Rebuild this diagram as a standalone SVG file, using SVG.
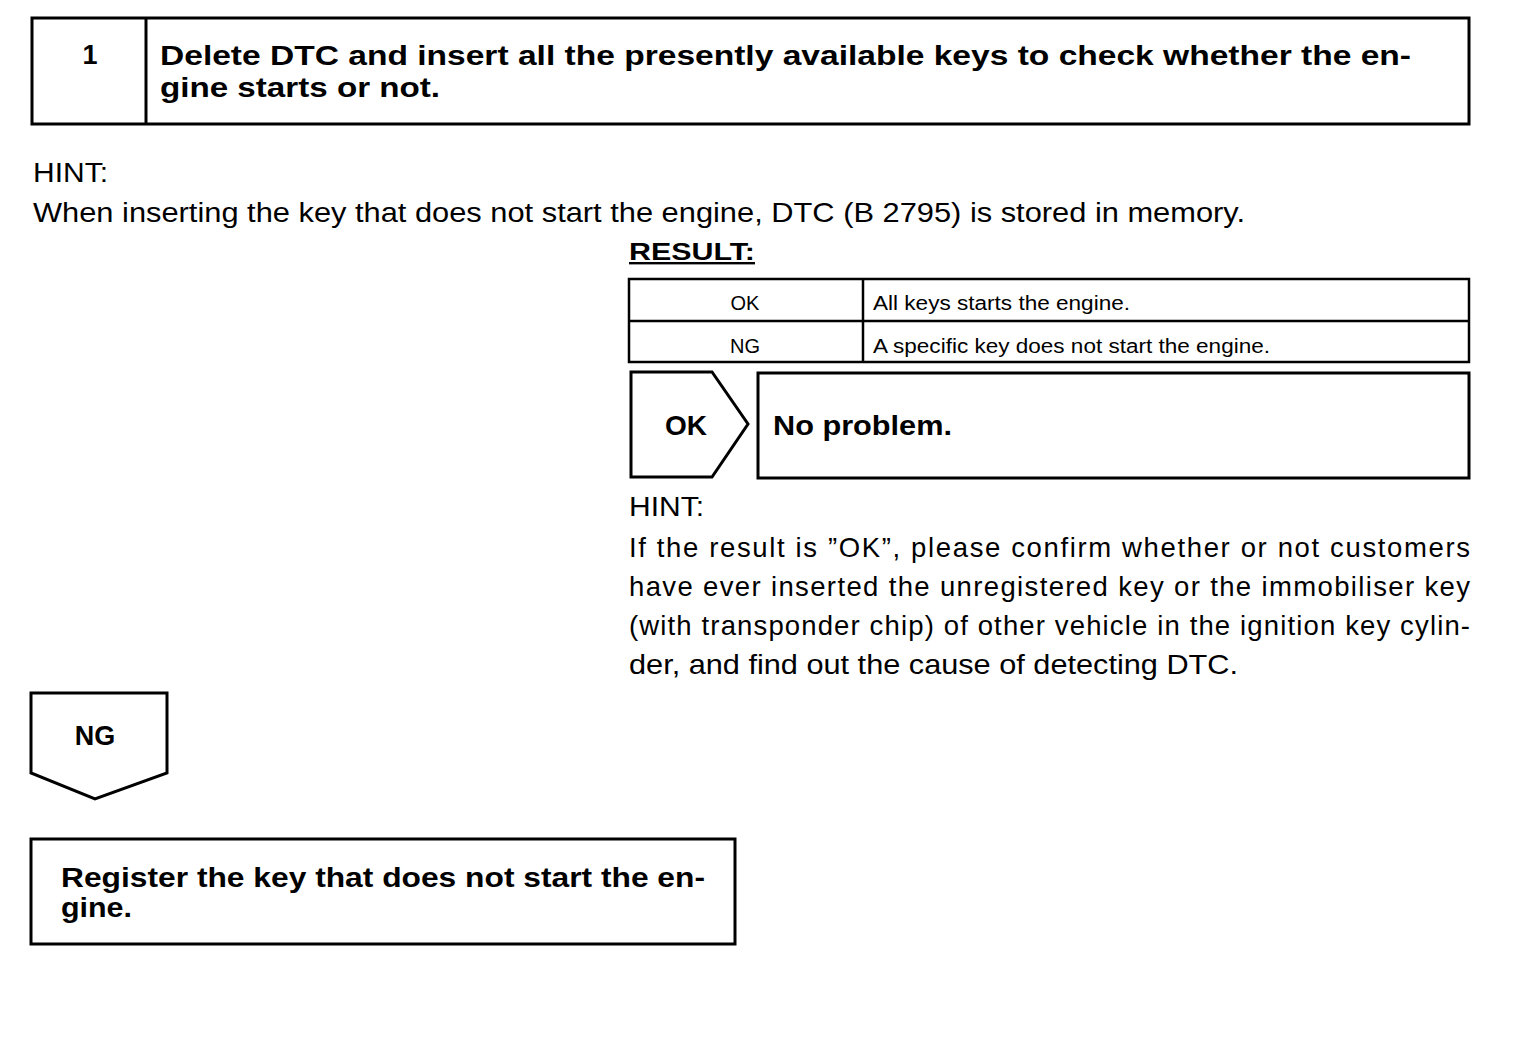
<svg xmlns="http://www.w3.org/2000/svg" width="1520" height="1048" viewBox="0 0 1520 1048">
<style>
.ln{fill:none;stroke:#000;stroke-width:3}
.thin{fill:none;stroke:#000;stroke-width:2.5}
.b{font-family:"Liberation Sans",Arial,sans-serif;font-weight:bold;fill:#000}
.r{font-family:"Liberation Sans",Arial,sans-serif;fill:#000}
</style>
<rect width="1520" height="1048" fill="#fff"/>
<g id="step1">
<rect class="ln" x="32" y="18" width="1437" height="106"/>
<line class="ln" x1="146" y1="18" x2="146" y2="124"/>
<text class="b" x="90" y="64" font-size="27" text-anchor="middle">1</text>
<text class="b" x="160" y="65" font-size="28" textLength="1251" lengthAdjust="spacingAndGlyphs">Delete DTC and insert all the presently available keys to check whether the en-</text>
<text class="b" x="160" y="97" font-size="28" textLength="280" lengthAdjust="spacingAndGlyphs">gine starts or not.</text>
</g>
<g id="hint1">
<text class="r" x="33" y="182" font-size="27.5" textLength="75" lengthAdjust="spacingAndGlyphs">HINT:</text>
<text class="r" x="33" y="222" font-size="27.5" textLength="1212" lengthAdjust="spacingAndGlyphs">When inserting the key that does not start the engine, DTC (B 2795) is stored in memory.</text>
</g>
<g id="result">
<text class="b" x="629" y="260" font-size="24" text-decoration="underline" textLength="126" lengthAdjust="spacingAndGlyphs">RESULT:</text>
<rect class="thin" x="629" y="279" width="840" height="83"/>
<line class="thin" x1="629" y1="321" x2="1469" y2="321"/>
<line class="thin" x1="863" y1="279" x2="863" y2="362"/>
<text class="r" x="745" y="310" font-size="20" text-anchor="middle">OK</text>
<text class="r" x="745" y="353" font-size="20" text-anchor="middle">NG</text>
<text class="r" x="873" y="310" font-size="20" textLength="257" lengthAdjust="spacingAndGlyphs">All keys starts the engine.</text>
<text class="r" x="873" y="353" font-size="20" textLength="397" lengthAdjust="spacingAndGlyphs">A specific key does not start the engine.</text>
</g>
<g id="ok-tag">
<polygon class="ln" points="631,372 712,372 748,424 712,477 631,477"/>
<text class="b" x="686" y="435" font-size="28" text-anchor="middle">OK</text>
</g>
<g id="no-problem">
<rect class="ln" x="758" y="373" width="711" height="105"/>
<text class="b" x="773" y="435" font-size="28" textLength="179" lengthAdjust="spacingAndGlyphs">No problem.</text>
</g>
<g id="hint2">
<text class="r" x="629" y="516" font-size="27.5" textLength="75" lengthAdjust="spacingAndGlyphs">HINT:</text>
<text class="r" x="629" y="557" font-size="27.5" textLength="841" lengthAdjust="spacing">If the result is ”OK”, please confirm whether or not customers</text>
<text class="r" x="629" y="596" font-size="27.5" textLength="841" lengthAdjust="spacing">have ever inserted the unregistered key or the immobiliser key</text>
<text class="r" x="629" y="635" font-size="27.5" textLength="841" lengthAdjust="spacing">(with transponder chip) of other vehicle in the ignition key cylin-</text>
<text class="r" x="629" y="674" font-size="27.5" textLength="609" lengthAdjust="spacingAndGlyphs">der, and find out the cause of detecting DTC.</text>
</g>
<g id="ng-tag">
<polygon class="ln" points="31,693 167,693 167,773 95,799 31,773"/>
<text class="b" x="95" y="745" font-size="27" text-anchor="middle">NG</text>
</g>
<g id="register">
<rect class="ln" x="31" y="839" width="704" height="105"/>
<text class="b" x="61" y="887" font-size="27" textLength="644" lengthAdjust="spacingAndGlyphs">Register the key that does not start the en-</text>
<text class="b" x="61" y="917" font-size="27" textLength="71" lengthAdjust="spacingAndGlyphs">gine.</text>
</g>
<g id="connectors"></g>
</svg>
